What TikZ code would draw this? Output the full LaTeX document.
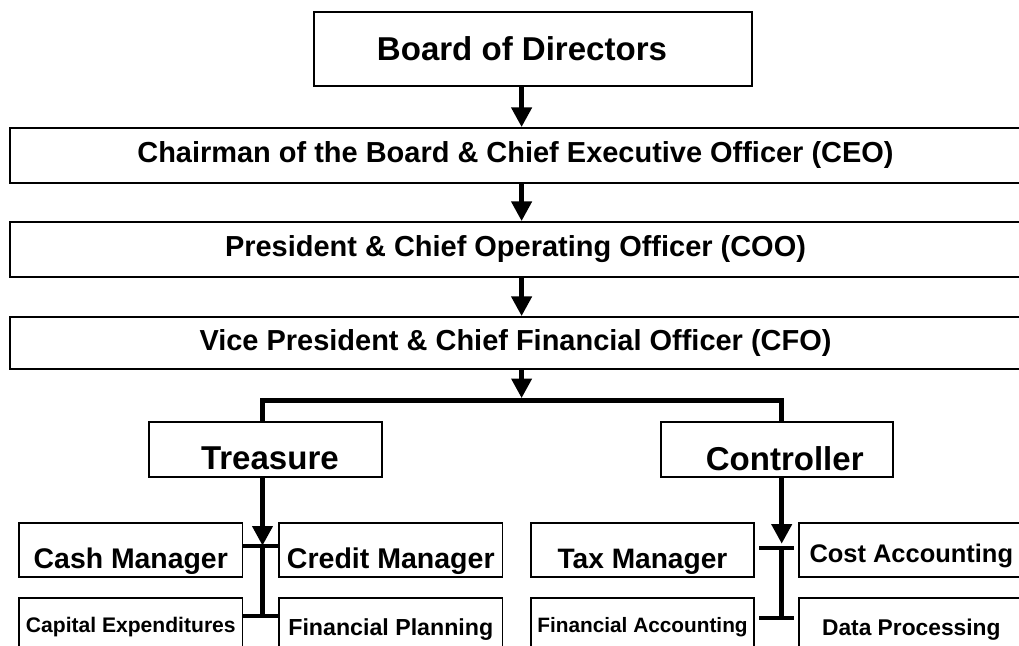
\documentclass[tikz,border=0pt]{standalone}
\usepackage{fontspec}
\setmainfont{Liberation Sans}
\usepackage{tikz}
\usetikzlibrary{positioning}
\usetikzlibrary{arrows.meta}
\tikzset{box/.style={draw, line width=1.2pt, inner sep=0pt}}
\tikzset{sz/.style={font=\bfseries\fontsize{#1}{#1}\selectfont}}
\tikzset{drop/.style={text height=#1, text depth=0pt}}
\tikzset{link/.style={line width=3.8pt, -{Triangle[width=14pt,length=14pt]}}}
\tikzset{wire/.style={line width=3.6pt}}
\tikzset{tick/.style={line width=3pt}}

\begin{document}
\begin{tikzpicture}
\useasboundingbox (0,0) rectangle (25.475,-16.15);
\clip (0,0) rectangle (25.475,-16.15);
\coordinate (spine) at (13.04,0);
\node[box, sz=23.5pt, minimum width=10.95cm, minimum height=1.85cm] (board) at (13.325,-1.225) {Board of Directors\hspace*{0.55cm}};
\node[box, sz=20.6pt, minimum width=25.275cm, minimum height=1.375cm] (ceo) at (12.8875,-3.8875) {Chairman of the Board \& Chief Executive Officer (CEO)};
\node[box, sz=20.6pt, minimum width=25.275cm, minimum height=1.375cm] (coo) at (12.8875,-6.2375) {President \& Chief Operating Officer (COO)};
\node[box, sz=20.6pt, minimum width=25.275cm, minimum height=1.3cm] (cfo) at (12.8875,-8.575) {Vice President \& Chief Financial Officer (CFO)};
\draw[link] (board.south -| spine) -- (ceo.north -| spine);
\draw[link] (ceo.south -| spine) -- (coo.north -| spine);
\draw[link] (coo.south -| spine) -- (cfo.north -| spine);
% split
\coordinate (split) at (13.04,-9.955);
\coordinate (tl) at (6.5625,-10.0175);
\coordinate (cl) at (19.5425,-10.0175);
\draw[link] (cfo.south -| spine) -- (split);
\node[box, sz=23.5pt, drop=28.9pt, minimum width=5.825cm, minimum height=1.375cm] (treas) at (6.6375,-11.2375) {\hspace*{0.22cm}Treasure};
\node[box, sz=23.5pt, drop=29.6pt, minimum width=5.8cm, minimum height=1.375cm] (ctrl) at (19.4175,-11.2375) {\hspace*{0.4cm}Controller};
\draw[wire] (treas.north -| tl) -- (tl) -- (cl) -- (ctrl.north -| cl);
% treasure side
\node[box, sz=20.2pt, drop=26.6pt, minimum width=5.5925cm, minimum height=1.35cm] (cash) at (3.27,-13.7575) {Cash Manager};
\node[box, sz=20.3pt, drop=26.5pt, minimum width=5.5925cm, minimum height=1.35cm] (credit) at (9.77,-13.7575) {Credit Manager};
\node[box, sz=15pt, drop=10.8pt, minimum width=5.5925cm, minimum height=1.35cm] (capex) at (3.27,-15.6325) {Capital Expenditures};
\node[box, sz=16.5pt, drop=15.1pt, minimum width=5.5925cm, minimum height=1.35cm] (plan) at (9.77,-15.6325) {Financial Planning};
\coordinate (tj1) at (6.5625,-13.6425);
\coordinate (tj2) at (6.5625,-15.3925);
\draw[link] (treas.south -| tl) -- (tj1);
\draw[wire] (tj1) -- (tj2);
\draw[tick] (cash.east |- tj1) -- (credit.west |- tj1);
\draw[tick] (capex.east |- tj2) -- (plan.west |- tj2);
% controller side
\node[box, sz=20pt, drop=26.4pt, minimum width=5.59cm, minimum height=1.35cm] (tax) at (16.0625,-13.7575) {Tax Manager};
\node[box, sz=18.1pt, drop=17.5pt, minimum width=5.6cm, minimum height=1.35cm] (cost) at (22.7825,-13.7575) {Cost Accounting};
\node[box, sz=14.8pt, drop=10.6pt, minimum width=5.59cm, minimum height=1.35cm] (finacc) at (16.0625,-15.6325) {Financial Accounting};
\node[box, sz=16.2pt, drop=14.9pt, minimum width=5.6cm, minimum height=1.35cm] (data) at (22.7825,-15.6325) {Data Processing};
\coordinate (cj1) at (19.5425,-13.7);
\coordinate (cj2) at (19.5425,-15.4425);
\draw[link, shorten >=3pt] (ctrl.south -| cl) -- (cj1);
\draw[wire] (cj1) -- (cj2);
\draw[tick, shorten <=0.1cm, shorten >=0.1cm] (tax.east |- cj1) -- (cost.west |- cj1);
\draw[tick, shorten <=0.1cm, shorten >=0.1cm] (finacc.east |- cj2) -- (data.west |- cj2);
\end{tikzpicture}
\end{document}
